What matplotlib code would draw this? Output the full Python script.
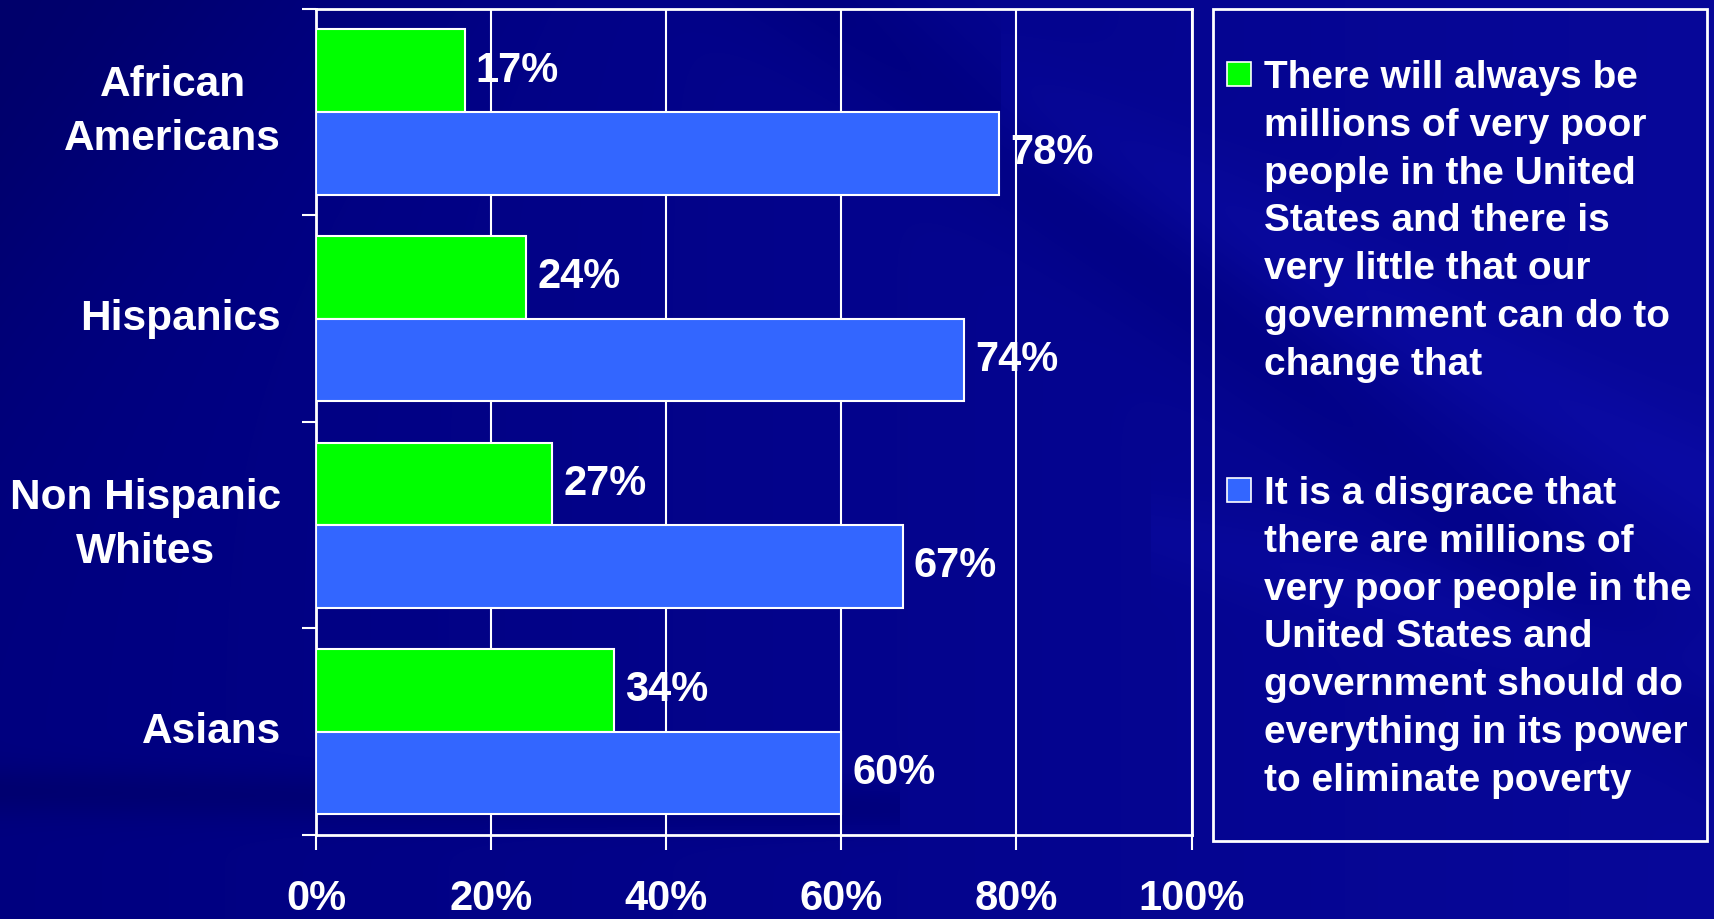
import numpy as np
import matplotlib
matplotlib.use("Agg")
import matplotlib.pyplot as plt
from matplotlib.patches import Rectangle

groups = ['African\nAmericans', 'Hispanics', 'Non Hispanic\nWhites', 'Asians']
always_poor = [17, 24, 27, 34]
disgrace = [78, 74, 67, 60]
xticks = [0, 20, 40, 60, 80, 100]
legend_labels = ['There will always be\nmillions of very poor\npeople in the United\n'
                 'States and there is\nvery little that our\ngovernment can do to\nchange that',
                 'It is a disgrace that\nthere are millions of\nvery poor people in the\n'
                 'United States and\ngovernment should do\neverything in its power\nto eliminate poverty']

GREEN = '#00ff00'
BLUE = '#3366ff'
W, H = 1714, 919
plt.rcParams['font.family'] = ['Liberation Sans', 'DejaVu Sans']
plt.rcParams['font.weight'] = 'bold'

fig = plt.figure(figsize=(W / 100, H / 100), dpi=100)

# background: navy with soft diagonal streaks
bg = fig.add_axes([0, 0, 1, 1], zorder=-10)
yy, xx = np.mgrid[0:H, 0:W]
b = 0.50 + 0.10 * xx / W - 0.06 * np.exp(-((yy - 0.02 * xx - 790) / 25.0) ** 2) * (xx < 900)
b -= 0.08 * np.exp(-((xx + yy) / 350.0) ** 2)
b += 0.04 * np.exp(-((yy - 0.55 * (xx - 1100) - 150) / 60.0) ** 2) * (xx > 1000)
b += 0.03 * np.exp(-((yy - 0.25 * (xx - 1100) - 520) / 40.0) ** 2) * (xx > 1150)
b -= 0.04 * np.exp(-((yy - 0.8 * (xx - 700) + 100) / 80.0) ** 2)
img = np.zeros((H, W, 3))
img[..., 0] = np.clip((b - 0.5) * 0.3, 0, 1)
img[..., 1] = np.clip((b - 0.5) * 0.3, 0, 1)
img[..., 2] = np.clip(b, 0, 1)
bg.imshow(img, aspect='auto', extent=[0, W, H, 0])
bg.axis('off')

ax = fig.add_axes([316 / W, 1 - 835 / H, (1191.5 - 316) / W, (835 - 8.7) / H])
ax.set_facecolor('none')
pos = np.arange(len(groups))[::-1]
ax.barh(pos + 0.2, always_poor, height=0.4, color=GREEN, edgecolor='white', linewidth=1.5, zorder=3)
ax.barh(pos - 0.2, disgrace, height=0.4, color=BLUE, edgecolor='white', linewidth=1.5, zorder=3)

for p, v in zip(pos, always_poor):
    ax.annotate('%d%%' % v, (v, p + 0.2), xytext=(11, 0), textcoords='offset pixels',
                ha='left', va='center', color='white', fontsize=30, fontweight='bold', zorder=4)
for p, v in zip(pos, disgrace):
    ax.annotate('%d%%' % v, (v, p - 0.2), xytext=(11, 0), textcoords='offset pixels',
                ha='left', va='center', color='white', fontsize=30, fontweight='bold', zorder=4)

for p, g in zip(pos, groups):
    ax.annotate(g, (0, p), xycoords=('axes fraction', 'data'), xytext=(-35, 0),
                textcoords='offset pixels', ha='right', va='center', multialignment='center',
                color='white', fontsize=30.5, fontweight='bold', linespacing=1.46)

ax.set_xlim(0, 100)
ax.set_ylim(-0.5, len(groups) - 0.5)
ax.set_xticks(xticks)
ax.set_xticklabels(['%d%%' % t for t in xticks], color='white', fontsize=30, fontweight='bold')
ax.set_yticks(np.arange(-0.5, len(groups)))
ax.set_yticklabels([])
ax.tick_params(axis='x', direction='out', length=11, width=1.5, color='white', pad=21)
ax.tick_params(axis='y', direction='out', length=10, width=1.5, color='white')
ax.grid(axis='x', color='white', linewidth=1.5, zorder=1)
ax.grid(axis='y', visible=False)
for s in ax.spines.values():
    s.set_color('white')
    s.set_linewidth(2)

# legend box
fig.patches.append(Rectangle((1213 / W, 1 - 841 / H), (1707 - 1213) / W, (841 - 8.7) / H,
                             transform=fig.transFigure, facecolor='none', edgecolor='white',
                             linewidth=2))
for col, top, lab in zip([GREEN, BLUE], [62, 478], legend_labels):
    fig.patches.append(Rectangle((1227 / W, 1 - (top + 24) / H), 24 / W, 24 / H,
                                 transform=fig.transFigure, facecolor=col, edgecolor='white',
                                 linewidth=1.2))
    fig.text(1264 / W, 1 - (top - 2) / H, lab, ha='left', va='top', color='white',
             fontsize=28, fontweight='bold', linespacing=1.42)

fig.savefig('out.png', dpi=100)
